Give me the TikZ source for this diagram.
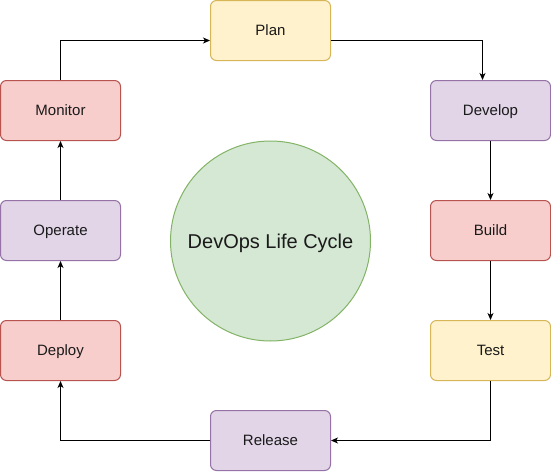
\documentclass[tikz,border=0pt]{standalone}
\usepackage{fontspec}
\setmainfont{Liberation Sans}
\usetikzlibrary{arrows.meta}
\definecolor{yfill}{HTML}{FFF2CC}\definecolor{ystroke}{HTML}{D6B656}
\definecolor{pfill}{HTML}{E1D5E7}\definecolor{pstroke}{HTML}{9673A6}
\definecolor{rfill}{HTML}{F8CECC}\definecolor{rstroke}{HTML}{B85450}
\definecolor{gfill}{HTML}{D5E8D4}\definecolor{gstroke}{HTML}{82B366}
\definecolor{txt}{HTML}{1A1A1A}
\tikzset{
  stagebox/.style={rectangle, rounded corners=6pt, minimum width=120pt, minimum height=60pt, line width=1pt, inner sep=0pt, text=txt, font=\fontsize{15}{18}\selectfont, text height=10.7pt, text depth=0pt},
  ybox/.style={stagebox, fill=yfill, draw=ystroke},
  pbox/.style={stagebox, fill=pfill, draw=pstroke},
  rbox/.style={stagebox, fill=rfill, draw=rstroke},
  flow/.style={line width=1pt, -{Stealth[length=7pt,width=6pt,inset=2pt]}},
}
\begin{document}
\begin{tikzpicture}[x=1pt,y=-1pt]
\useasboundingbox (0,0) rectangle (551,471);
\node[ybox] (plan) at (270.5,30.5) {Plan};
\node[pbox] (develop) at (490.5,110.5) {Develop};
\node[rbox] (build) at (490.5,230.5) {Build};
\node[ybox] (test) at (490.5,350.5) {Test};
\node[pbox] (release) at (270.5,440.5) {Release};
\node[rbox] (deploy) at (60.5,350.5) {Deploy};
\node[pbox] (operate) at (60.5,230.5) {Operate};
\node[rbox] (monitor) at (60.5,110.5) {Monitor};
\node[circle, minimum size=200pt, inner sep=0pt, fill=gfill, draw=gstroke, line width=1pt, text=txt, font=\fontsize{20}{24}\selectfont, text height=14.3pt, text depth=0pt] (center) at (270.5,241) {DevOps Life Cycle};
\draw[flow] ([yshift=-10pt]plan.east) -| ([xshift=-8pt]develop.north);
\draw[flow] (develop.south) -- (build.north);
\draw[flow] (build.south) -- (test.north);
\draw[flow] (test.south) |- (release.east);
\draw[flow] (release.west) -| (deploy.south);
\draw[flow] (deploy.north) -- (operate.south);
\draw[flow] (operate.north) -- (monitor.south);
\draw[flow] (monitor.north) |- ([yshift=-10pt]plan.west);
\end{tikzpicture}
\end{document}
